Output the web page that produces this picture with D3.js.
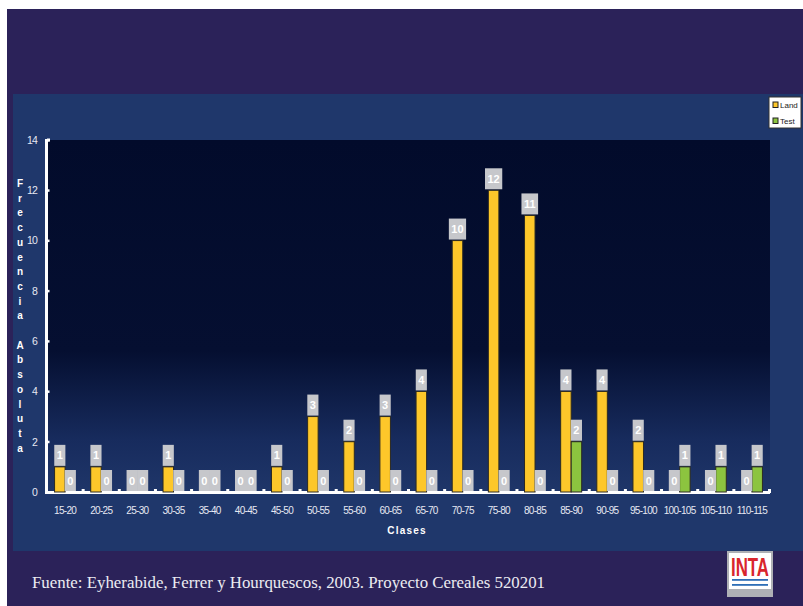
<!DOCTYPE html>
<html>
<head>
<meta charset="utf-8">
<script src="https://cdnjs.cloudflare.com/ajax/libs/d3/7.8.5/d3.min.js"></script>
<style>
  body { margin: 0; background: #ffffff; }
  svg { display: block; }
</style>
</head>
<body>
<div id="chart"></div>
<script>
var classes = ['15-20', '20-25', '25-30', '30-35', '35-40', '40-45', '45-50', '50-55', '55-60', '60-65',
    '65-70', '70-75', '75-80', '80-85', '85-90', '90-95', '95-100', '100-105', '105-110', '110-115'];
var land = [1, 1, 0, 1, 0, 0, 1, 3, 2, 3, 4, 10, 12, 11, 4, 4, 2, 0, 0, 0];
var test = [0, 0, 0, 0, 0, 0, 0, 0, 0, 0, 0, 0, 0, 0, 2, 0, 0, 1, 1, 1];
var seriesNames = ['Land', 'Test'];
var seriesColors = ['#fdc72a', '#8cc43f'];
var yTicks = [0, 2, 4, 6, 8, 10, 12, 14];
var yTitle = 'Frecuencia Absoluta';
var xTitle = 'Clases';
var source = 'Fuente: Eyherabide, Ferrer y Hourquescos, 2003. Proyecto Cereales 520201';

var width = 803,
    height = 606,
    plotLeft = 47,
    plotRight = 770,
    plotTop = 140,
    plotBottom = 492;

var svg = d3.select('#chart')
    .append('svg')
    .attr('width', width)
    .attr('height', height);

var defs = svg.append('defs');
var grad = defs.append('linearGradient')
    .attr('id', 'plotGrad')
    .attr('x1', 0).attr('y1', 0).attr('x2', 0).attr('y2', 1);
grad.append('stop').attr('offset', '0%').attr('stop-color', '#020b2b');
grad.append('stop').attr('offset', '60%').attr('stop-color', '#050f31');
grad.append('stop').attr('offset', '85%').attr('stop-color', '#172b5d');
grad.append('stop').attr('offset', '100%').attr('stop-color', '#1f3669');

// slide background
svg.append('rect').attr('x', 7).attr('y', 9).attr('width', width - 7).attr('height', height - 9).attr('fill', '#2b2259');
svg.append('rect').attr('x', 13).attr('y', 94).attr('width', width - 13).attr('height', 457).attr('fill', '#1f376b');
svg.append('rect')
    .attr('x', plotLeft).attr('y', plotTop)
    .attr('width', plotRight - plotLeft).attr('height', plotBottom - plotTop)
    .attr('fill', 'url(#plotGrad)');

var x0 = d3.scaleBand().domain(classes).range([plotLeft, plotRight]);
var x1 = d3.scaleBand().domain(seriesNames).range([0, x0.bandwidth()]).paddingOuter(0.72);
var y = d3.scaleLinear().domain([0, 14]).range([plotBottom, plotTop]);

// y axis
var yAxis = d3.axisLeft(y).tickValues(yTicks).tickSize(0).tickPadding(10);
var gy = svg.append('g')
    .attr('transform', 'translate(' + plotLeft + ',0)')
    .call(yAxis);
gy.select('.domain').remove();
gy.selectAll('text')
    .attr('fill', '#e6e8f2')
    .style('font-family', 'Liberation Sans, Arial, sans-serif')
    .style('font-size', '10.5px')
    .style('letter-spacing', '-0.8px');

svg.append('g').selectAll('rect')
    .data(yTicks)
    .enter()
    .append('rect')
    .attr('x', plotLeft)
    .attr('y', function (d) { return y(d) - 1; })
    .attr('width', 2.5)
    .attr('height', 2.5)
    .attr('fill', '#ffffff');

// x axis
var xAxis = d3.axisBottom(x0).tickSize(0).tickPadding(15);
var gx = svg.append('g')
    .attr('transform', 'translate(0,' + plotBottom + ')')
    .call(xAxis);
gx.select('.domain').remove();
gx.selectAll('text')
    .attr('fill', '#e6e8f2')
    .style('font-family', 'Liberation Sans, Arial, sans-serif')
    .style('font-size', '10px')
    .style('letter-spacing', '-0.7px');

svg.append('g').selectAll('rect')
    .data(classes.slice(1))
    .enter()
    .append('rect')
    .attr('x', function (d) { return x0(d) - 1.5; })
    .attr('y', plotBottom - 3)
    .attr('width', 3)
    .attr('height', 3)
    .attr('fill', '#ffffff');

// axis lines
svg.append('line')
    .attr('x1', plotLeft - 0.5).attr('x2', plotLeft - 0.5)
    .attr('y1', plotTop - 1).attr('y2', plotBottom + 1.5)
    .attr('stroke', '#ffffff').attr('stroke-width', 3);
svg.append('line')
    .attr('x1', plotLeft - 2).attr('x2', plotRight)
    .attr('y1', plotBottom + 0.5).attr('y2', plotBottom + 0.5)
    .attr('stroke', '#ffffff').attr('stroke-width', 3);
svg.append('rect').attr('x', plotRight - 2).attr('y', plotBottom - 3).attr('width', 3).attr('height', 4).attr('fill', '#ffffff');
svg.append('rect').attr('x', plotLeft).attr('y', plotTop - 1.5).attr('width', 3).attr('height', 3).attr('fill', '#ffffff');

// bars
var rows = classes.map(function (c, i) {
    return { cls: c, values: [land[i], test[i]] };
});

var groups = svg.append('g').selectAll('g')
    .data(rows)
    .enter()
    .append('g')
    .attr('transform', function (d) { return 'translate(' + x0(d.cls) + ',0)'; });

groups.selectAll('rect')
    .data(function (d) {
        return d.values.map(function (v, k) { return { key: seriesNames[k], value: v, k: k }; });
    })
    .enter()
    .filter(function (d) { return d.value > 0; })
    .append('rect')
    .attr('x', function (d) { return x1(d.key); })
    .attr('y', function (d) { return y(d.value); })
    .attr('width', x1.bandwidth())
    .attr('height', function (d) { return y(0) - y(d.value); })
    .attr('fill', function (d) { return seriesColors[d.k]; })
    .attr('stroke', '#2c2a22')
    .attr('stroke-width', 1);

// value labels
var labels = groups.selectAll('g.lab')
    .data(function (d) {
        return d.values.map(function (v, k) { return { key: seriesNames[k], value: v }; });
    })
    .enter()
    .append('g')
    .attr('class', 'lab');

labels.append('rect').attr('fill', '#c6c7cb');
labels.append('text')
    .attr('text-anchor', 'middle')
    .attr('fill', '#ffffff')
    .style('font-family', 'Liberation Sans, Arial, sans-serif')
    .style('font-weight', 'bold')
    .style('font-size', '11px')
    .text(function (d) { return d.value; });

labels.each(function (d) {
    var g = d3.select(this);
    var tw = g.select('text').node().getComputedTextLength();
    var w = tw + 5;
    var cx = x1(d.key) + x1.bandwidth() / 2;
    var bottom = y(d.value) - 1;
    g.select('rect')
        .attr('x', cx - w / 2)
        .attr('y', bottom - 21)
        .attr('width', w)
        .attr('height', 21);
    g.select('text')
        .attr('x', cx)
        .attr('y', bottom - 6.5);
});

// axis titles
svg.append('g').selectAll('text')
    .data(yTitle.split(''))
    .enter()
    .append('text')
    .attr('x', 20)
    .attr('y', function (d, i) { return 187 + i * 14.7; })
    .attr('text-anchor', 'middle')
    .attr('fill', '#ffffff')
    .style('font-family', 'Liberation Sans, Arial, sans-serif')
    .style('font-weight', 'bold')
    .style('font-size', '10px')
    .text(function (d) { return d; });

svg.append('text')
    .attr('x', 407)
    .attr('y', 534)
    .attr('text-anchor', 'middle')
    .attr('fill', '#ffffff')
    .style('font-family', 'Liberation Sans, Arial, sans-serif')
    .style('font-weight', 'bold')
    .style('font-size', '10px')
    .style('letter-spacing', '1.2px')
    .text(xTitle);

// legend
var legend = svg.append('g').attr('transform', 'translate(769,97)');
legend.append('rect')
    .attr('width', 32).attr('height', 31)
    .attr('fill', '#ffffff').attr('stroke', '#333333').attr('stroke-width', 1);
var li = legend.selectAll('g')
    .data(seriesNames)
    .enter()
    .append('g')
    .attr('transform', function (d, i) { return 'translate(0,' + (i * 16) + ')'; });
li.append('rect')
    .attr('x', 4).attr('y', 5)
    .attr('width', 5).attr('height', 5.5)
    .attr('fill', function (d, i) { return seriesColors[i]; })
    .attr('stroke', '#222222').attr('stroke-width', 1);
li.append('text')
    .attr('x', 11).attr('y', 10.5)
    .attr('fill', '#222222')
    .style('font-family', 'Liberation Sans, Arial, sans-serif')
    .style('font-size', '8px')
    .text(function (d) { return d; });

// footer
svg.append('text')
    .attr('x', 32)
    .attr('y', 588)
    .attr('textLength', 513)
    .attr('lengthAdjust', 'spacingAndGlyphs')
    .attr('fill', '#ececf2')
    .style('font-family', 'Liberation Serif, Times New Roman, serif')
    .style('font-size', '16px')
    .text(source);

// INTA logo
var logo = svg.append('g').attr('transform', 'translate(727,551)');
logo.append('rect').attr('width', 46).attr('height', 46).attr('fill', '#aeb0b5');
logo.append('rect').attr('x', 2).attr('y', 2).attr('width', 42).attr('height', 36).attr('fill', '#ffffff');
logo.append('text')
    .attr('x', 4).attr('y', 25)
    .attr('textLength', 38).attr('lengthAdjust', 'spacingAndGlyphs')
    .attr('fill', '#d9262c')
    .style('font-family', 'Liberation Sans Narrow, Liberation Sans, Arial, sans-serif')
    .style('font-weight', 'bold')
    .style('font-size', '26px')
    .text('INTA');
logo.append('rect').attr('x', 5).attr('y', 28).attr('width', 36).attr('height', 1.8).attr('fill', '#2f6fb7');
logo.append('rect').attr('x', 5).attr('y', 33).attr('width', 36).attr('height', 1.8).attr('fill', '#2f6fb7');
</script>
</body>
</html>
